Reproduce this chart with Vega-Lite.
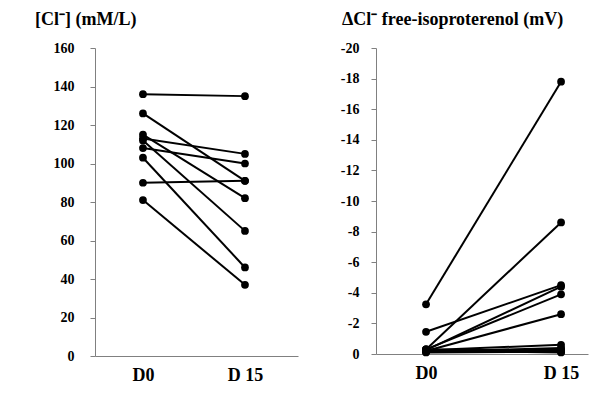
{
  "$schema": "https://vega.github.io/schema/vega-lite/v6.json",
  "background": "white",
  "padding": {"left": 35, "top": 11, "right": 5, "bottom": 5},
  "config": {
    "view": {"stroke": null},
    "font": "Times New Roman",
    "axis": {
      "labelFont": "Times New Roman",
      "labelFontWeight": "bold",
      "labelColor": "black",
      "domainColor": "#808080",
      "tickColor": "#808080",
      "grid": false,
      "title": null
    },
    "title": {"font": "Times New Roman", "fontWeight": "bold", "fontSize": 18, "anchor": "start", "frame": "group", "color": "black"}
  },
  "datasets": {
    "cl": [
      {"s": 1, "day": "D0", "v": 136}, {"s": 1, "day": "D 15", "v": 135},
      {"s": 2, "day": "D0", "v": 126}, {"s": 2, "day": "D 15", "v": 91},
      {"s": 3, "day": "D0", "v": 115}, {"s": 3, "day": "D 15", "v": 82},
      {"s": 4, "day": "D0", "v": 113}, {"s": 4, "day": "D 15", "v": 105},
      {"s": 5, "day": "D0", "v": 112}, {"s": 5, "day": "D 15", "v": 65},
      {"s": 6, "day": "D0", "v": 108}, {"s": 6, "day": "D 15", "v": 100},
      {"s": 7, "day": "D0", "v": 103}, {"s": 7, "day": "D 15", "v": 46},
      {"s": 8, "day": "D0", "v": 90}, {"s": 8, "day": "D 15", "v": 91},
      {"s": 9, "day": "D0", "v": 81}, {"s": 9, "day": "D 15", "v": 37}
    ],
    "dcl": [
      {"s": 1, "day": "D0", "v": -3.25}, {"s": 1, "day": "D 15", "v": -17.8},
      {"s": 2, "day": "D0", "v": -1.45}, {"s": 2, "day": "D 15", "v": -4.5},
      {"s": 3, "day": "D0", "v": -0.3}, {"s": 3, "day": "D 15", "v": -8.6},
      {"s": 4, "day": "D0", "v": -0.25}, {"s": 4, "day": "D 15", "v": -4.4},
      {"s": 5, "day": "D0", "v": -0.3}, {"s": 5, "day": "D 15", "v": -3.9},
      {"s": 6, "day": "D0", "v": -0.2}, {"s": 6, "day": "D 15", "v": -2.6},
      {"s": 7, "day": "D0", "v": -0.25}, {"s": 7, "day": "D 15", "v": -0.6},
      {"s": 8, "day": "D0", "v": -0.15}, {"s": 8, "day": "D 15", "v": -0.4},
      {"s": 9, "day": "D0", "v": -0.2}, {"s": 9, "day": "D 15", "v": -0.3},
      {"s": 10, "day": "D0", "v": -0.3}, {"s": 10, "day": "D 15", "v": -0.2},
      {"s": 11, "day": "D0", "v": -0.1}, {"s": 11, "day": "D 15", "v": -0.15},
      {"s": 12, "day": "D0", "v": -0.2}, {"s": 12, "day": "D 15", "v": -0.1}
    ]
  },
  "spacing": 42,
  "hconcat": [
    {
      "width": 203,
      "height": 308,
      "title": {"text": "[Cl⁻] (mM/L)", "dx": -60, "offset": 12},
      "data": {"name": "cl"},
      "encoding": {
        "x": {"field": "day", "type": "nominal", "sort": ["D0", "D 15"],
          "scale": {"type": "point", "padding": 0.495, "align": 0.475},
          "axis": {"labelAngle": 0, "ticks": false, "labelFontSize": 18, "labelPadding": 10}},
        "y": {"field": "v", "type": "quantitative",
          "scale": {"domain": [0, 160], "nice": false},
          "axis": {"values": [0, 20, 40, 60, 80, 100, 120, 140, 160], "labelFontSize": 14, "tickSize": 5, "labelPadding": 16}}
      },
      "layer": [
        {"mark": {"type": "line", "color": "black", "strokeWidth": 2}, "encoding": {"detail": {"field": "s"}}},
        {"mark": {"type": "point", "filled": true, "color": "black", "size": 60, "opacity": 1}}
      ]
    },
    {
      "width": 212,
      "height": 306,
      "title": {"text": "ΔCl⁻ free-isoproterenol (mV)", "dx": -34, "offset": 12},
      "data": {"name": "dcl"},
      "encoding": {
        "x": {"field": "day", "type": "nominal", "sort": ["D0", "D 15"],
          "scale": {"type": "point", "padding": 0.285, "align": 0.65},
          "axis": {"labelAngle": 0, "ticks": false, "labelFontSize": 18, "labelPadding": 10}},
        "y": {"field": "v", "type": "quantitative",
          "scale": {"domain": [-20, 0], "nice": false, "reverse": true},
          "axis": {"values": [-20, -18, -16, -14, -12, -10, -8, -6, -4, -2, 0], "labelFontSize": 14, "tickSize": 5, "labelPadding": 12,
            "labelExpr": "datum.value === 0 ? '0' : '-' + abs(datum.value)"}}
      },
      "layer": [
        {"mark": {"type": "line", "color": "black", "strokeWidth": 2}, "encoding": {"detail": {"field": "s"}}},
        {"mark": {"type": "point", "filled": true, "color": "black", "size": 60, "opacity": 1}}
      ]
    }
  ]
}
